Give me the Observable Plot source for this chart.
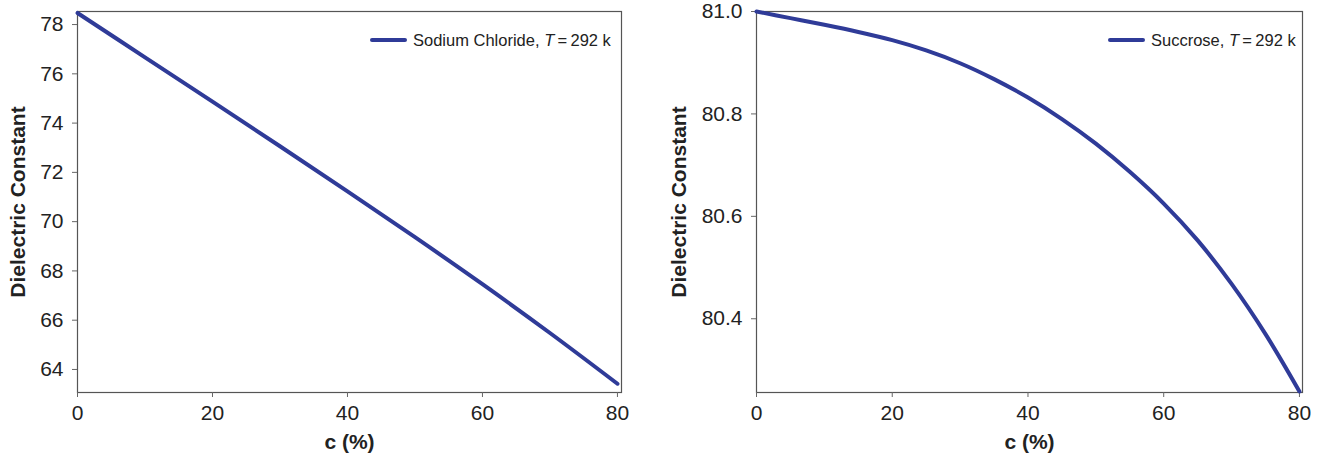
<!DOCTYPE html>
<html>
<head>
<meta charset="utf-8">
<script src="https://cdn.jsdelivr.net/npm/d3@7"></script>
<script src="https://cdn.jsdelivr.net/npm/@observablehq/plot@0.6"></script>
<style>
  html, body { margin: 0; padding: 0; background: #fff; }
  #wrap { position: relative; width: 1323px; height: 461px; display: flex; font-family: "Liberation Sans", Arial, sans-serif; color: #222; }
  .legend { position: absolute; display: flex; align-items: center; height: 20px; font-size: 16.5px; white-space: nowrap; }
  .swatch { display: inline-block; width: 37px; height: 4px; border-radius: 2px; background: #2f3b98; margin-right: 6px; }
</style>
</head>
<body>
<div id="wrap"></div>
<script>
// Sodium chloride, T = 292 K
const naclC = [0, 10, 20, 30, 40, 50, 60, 70, 80];
const naclEps = [78.47, 76.67, 74.87, 73.06, 71.23, 69.37, 67.46, 65.48, 63.42];
const naclTicks = [64, 66, 68, 70, 72, 74, 76, 78];

// Sucrose, T = 292 K
const sucC = [0, 5, 10, 15, 20, 25, 30, 35, 40, 45, 50, 55, 60, 65, 70, 75, 80];
const sucEps = [81.000, 80.987, 80.974, 80.960, 80.944, 80.924, 80.899, 80.868, 80.832, 80.790, 80.742, 80.687, 80.625, 80.553, 80.468, 80.370, 80.258];
const sucTicks = [80.4, 80.6, 80.8, 81.0];

const xTicks = [0, 20, 40, 60, 80];
const lineColor = "#2f3b98";
const font = '"Liberation Sans", Arial, sans-serif';

function panel({c, eps, yDomain, yTicks, yFormat, width, marginLeft, marginRight, xMax}) {
  const data = c.map((v, i) => ({c: v, eps: eps[i]}));
  return Plot.plot({
    width, height: 461,
    marginTop: 11, marginBottom: 69, marginLeft, marginRight,
    style: {fontFamily: font, fontSize: "21px", color: "#222", background: "#fff", overflow: "visible"},
    x: {domain: [0, xMax]},
    y: {domain: yDomain},
    marks: [
      Plot.frame({stroke: "#555", strokeWidth: 1.2}),
      Plot.axisX(xTicks, {tickSize: 5, tickPadding: 8, label: null, fontSize: 21, stroke: "#666"}),
      Plot.axisY(yTicks, {tickSize: 5, tickPadding: 9, label: null, fontSize: 21, tickFormat: yFormat, stroke: "#666"}),
      Plot.line(data, {x: "c", y: "eps", stroke: lineColor, strokeWidth: 4, curve: "catmull-rom"}),
      Plot.text(["c (%)"], {text: d => d, frameAnchor: "bottom", lineAnchor: "middle", dy: 50, fontSize: 21, fontWeight: "bold", fill: "#222"}),
      Plot.text(["Dielectric Constant"], {text: d => d, frameAnchor: "left", textAnchor: "middle", lineAnchor: "middle", dx: 18 - marginLeft, rotate: -90, fontSize: 21, fontWeight: "bold", fill: "#222"})
    ]
  });
}

const wrap = document.getElementById("wrap");
wrap.appendChild(panel({
  c: naclC, eps: naclEps, yDomain: [63.065, 78.53], yTicks: naclTicks, yFormat: d => d,
  width: 661, marginLeft: 77, marginRight: 40, xMax: 80.6
}));
wrap.appendChild(panel({
  c: sucC, eps: sucEps, yDomain: [80.256, 81.0], yTicks: sucTicks, yFormat: d3.format(".1f"),
  width: 662, marginLeft: 95, marginRight: 21, xMax: 80.45
}));

function legend(left, top, name) {
  const d = document.createElement("div");
  d.className = "legend";
  d.style.left = left + "px";
  d.style.top = top + "px";
  d.innerHTML = '<span class="swatch"></span><span>' + name + ', <i>T</i>&#8201;=&#8201;292 k</span>';
  wrap.appendChild(d);
}
legend(370, 30, "Sodium Chloride");
legend(1108, 30, "Succrose");
</script>
</body>
</html>
